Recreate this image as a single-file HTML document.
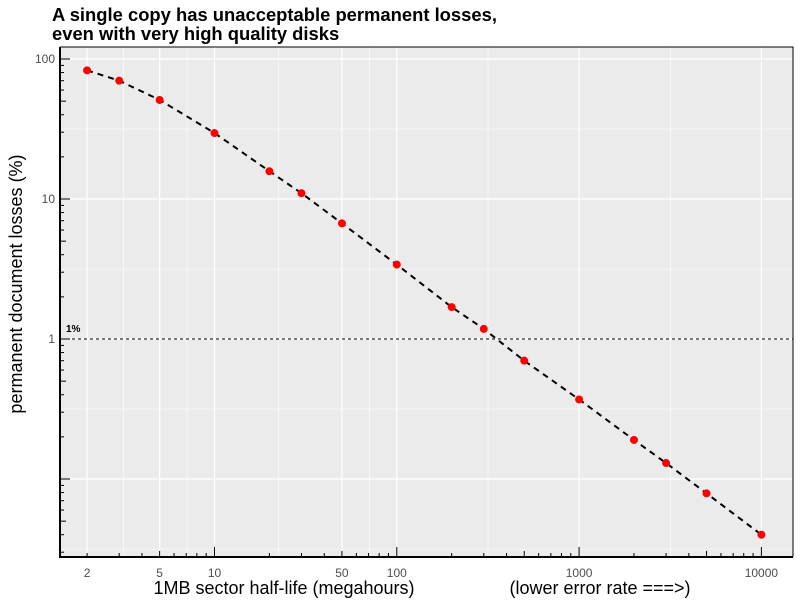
<!DOCTYPE html>
<html><head><meta charset="utf-8"><style>
body{margin:0;background:#fff;}
svg text{font-family:"Liberation Sans",sans-serif;}
</style></head><body>
<svg id="c" width="800" height="600" xmlns="http://www.w3.org/2000/svg"></svg>
<script>
const xValues=[2,3,5,10,20,30,50,100,200,300,500,1000,2000,3000,5000,10000];
const yValues=[83,70,51,29.6,15.8,11,6.7,3.4,1.69,1.18,0.70,0.37,0.19,0.13,0.079,0.040];
const xTickLabels=[2,5,10,50,100,1000,10000];
const xMinorGrid=[3.162,7.071,22.36,70.71,316.2,3162];
const yTickLabels=[100,10,1];
const yMajorGrid=[100,10,1,0.1];
const yMinorGrid=[31.62,3.162,0.3162,0.03162];
const refLine=1;

const NS="http://www.w3.org/2000/svg";
const svg=document.getElementById('c');
const L=60,R=793,T=47,B=557;
const X=v=>214.5+(Math.log10(v)-1)*182.3;
const Y=v=>339-Math.log10(v)*140;
function mk(tag,attrs,parent){const e=document.createElementNS(NS,tag);for(const k in attrs)e.setAttribute(k,attrs[k]);(parent||svg).appendChild(e);return e;}

let e=mk('rect',{x:L,y:T,width:R-L,height:B-T,fill:'#ebebeb'});


const g=mk('g',{});


xMinorGrid.forEach(v=>mk('line',{x1:X(v),x2:X(v),y1:T,y2:B,stroke:'#fff','stroke-width':0.6},g));
xTickLabels.forEach(v=>mk('line',{x1:X(v),x2:X(v),y1:T,y2:B,stroke:'#fff','stroke-width':1.2},g));
yMinorGrid.forEach(v=>mk('line',{x1:L,x2:R,y1:Y(v),y2:Y(v),stroke:'#fff','stroke-width':0.6},g));
yMajorGrid.forEach(v=>mk('line',{x1:L,x2:R,y1:Y(v),y2:Y(v),stroke:'#fff','stroke-width':1.2},g));

const tk=mk('g',{stroke:'#000','stroke-width':1});


for(let d=-2;d<=4;d++){for(let m=1;m<=9;m++){const v=m*Math.pow(10,d);const len=m==1?10:(m==5?6:4);
 const x=X(v); if(x>=L&&x<=R) mk('line',{x1:x,x2:x,y1:B,y2:B-len},tk);
 const y=Y(v); if(y>=T&&y<=B) mk('line',{x1:L,x2:L+len,y1:y,y2:y},tk);}}

e=mk('line',{x1:L,x2:R,y1:Y(refLine),y2:Y(refLine),stroke:'#000','stroke-width':1,'stroke-dasharray':'3,3'});


e=mk('text',{x:66,y:Y(refLine)-7,'font-size':10,'font-weight':'bold',fill:'#000','font-family':'Liberation Mono'});
e.textContent='1%';



const pts=xValues.map((x,i)=>X(x)+','+Y(yValues[i])).join(' ');
e=mk('polyline',{points:pts,fill:'none',stroke:'#000','stroke-width':2,'stroke-dasharray':'6,5'});


xValues.forEach((x,i)=>{const c=mk('circle',{cx:X(x),cy:Y(yValues[i]),r:4,fill:'#f00'});
 
 });

e=mk('path',{d:`M${L},${T}H${R}V${B}`,fill:'none',stroke:'#000','stroke-width':1});


e=mk('path',{d:`M${L},${T}V${B}H${R}`,fill:'none',stroke:'#000','stroke-width':2});



xTickLabels.forEach(v=>{const t=mk('text',{x:X(v),y:577,'font-size':12,fill:'#4d4d4d','text-anchor':'middle'});t.textContent=v;
 
 });
yTickLabels.forEach(v=>{const t=mk('text',{x:55,y:Y(v)+4,'font-size':12,fill:'#4d4d4d','text-anchor':'end'});t.textContent=v;
 
 });

e=mk('text',{x:284,y:594,'font-size':18,fill:'#000','text-anchor':'middle'});e.textContent='1MB sector half-life (megahours)';


e=mk('text',{x:600,y:594,'font-size':18,fill:'#000','text-anchor':'middle'});e.textContent='(lower error rate ===>)';


e=mk('text',{x:0,y:0,'font-size':18,fill:'#000','text-anchor':'middle',transform:'translate(22,284) rotate(-90)'});e.textContent='permanent document losses (%)';


e=mk('text',{x:52,y:21,'font-size':18.4,'font-weight':'bold',fill:'#000'});e.textContent='A single copy has unacceptable permanent losses,';


e=mk('text',{x:52,y:40,'font-size':18.4,'font-weight':'bold',fill:'#000'});e.textContent='even with very high quality disks';


</script>
</body></html>
